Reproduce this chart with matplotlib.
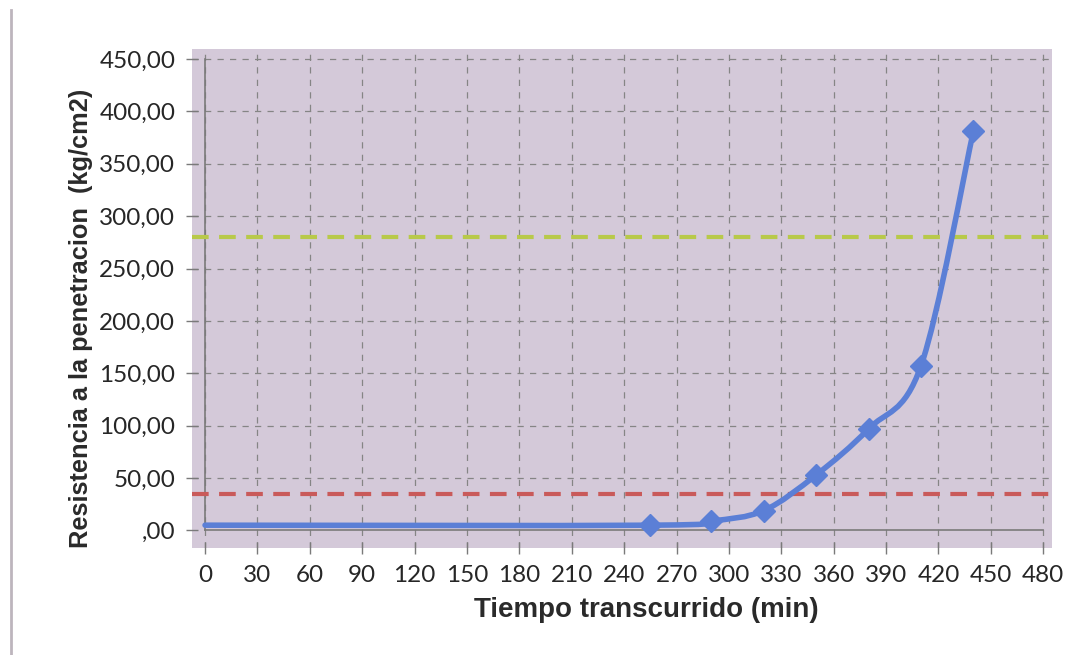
import matplotlib.pyplot as plt
import numpy as np
from matplotlib.path import Path
from matplotlib.patches import PathPatch
from matplotlib.lines import Line2D

# data
tiempo = [0, 255, 290, 320, 350, 380, 410, 440]
resistencia = [5.0, 5.0, 9.0, 19.0, 53.0, 97.0, 157.0, 381.0]
limite_inicial = 35.0
limite_final = 280.0
x_ticks = list(range(0, 481, 30))
y_ticks = list(range(0, 451, 50))
y_labels = [",00"] + [f"{v},00" for v in y_ticks[1:]]

fig = plt.figure(figsize=(10.7, 6.55), dpi=100)
ax = fig.add_axes([0.1794, 0.163, 0.8037, 0.762])
ax.set_facecolor("#d4c9d9")

ax.set_xlim(-7.5, 485)
ax.set_ylim(-17, 459.5)

for sp in ax.spines.values():
    sp.set_visible(False)

# dashed grid
for xv in x_ticks:
    ax.axvline(xv, color="#858585", lw=0.9, ls=(0, (5, 5)), zorder=1)
for yv in y_ticks[1:]:
    ax.axhline(yv, color="#858585", lw=0.9, ls=(0, (5, 5)), zorder=1)

# axis lines
ax.axvline(0, ymin=(0 + 17) / 476.5, ymax=(450 + 17) / 476.5, color="#7a7a7a", lw=1.2, zorder=2)
ax.axhline(0, xmin=7.5 / 492.5, xmax=487.5 / 492.5, color="#7a7a7a", lw=1.2, zorder=2)
ax.set_xticks(x_ticks)
ax.set_yticks(y_ticks)
ax.set_yticklabels(y_labels)
ax.tick_params(axis="both", direction="inout", length=8, color="#7a7a7a", width=1,
               labelsize=17.5, labelcolor="#262626", pad=8)
for lab in ax.get_xticklabels() + ax.get_yticklabels():
    lab.set_family("Lato")

# reference lines
ax.axhline(limite_final, color="#b8c94a", lw=3, ls=(0, (4, 2.5)), zorder=3)
ax.axhline(limite_inicial, color="#c95a5a", lw=3, ls=(0, (4, 2.5)), zorder=3)

# smoothed curve (bezier through the points, like excel)
pts = np.column_stack([tiempo, resistencia])
verts = [pts[0]]
codes = [Path.MOVETO]
n = len(pts)
for i in range(n - 1):
    p0 = pts[max(i - 1, 0)]
    p1 = pts[i]
    p2 = pts[i + 1]
    p3 = pts[min(i + 2, n - 1)]
    c1 = p1 + (p2 - p0) / 6
    c2 = p2 - (p3 - p1) / 6
    verts += [c1, c2, p2]
    codes += [Path.CURVE4] * 3
curve = PathPatch(Path(verts, codes), facecolor="none", edgecolor="#5b7fd6", lw=4,
                  capstyle="round", joinstyle="round", zorder=4)
ax.add_patch(curve)
ax.plot(tiempo[1:], resistencia[1:], ls="none", marker="D", ms=11, color="#5b7fd6", zorder=5)

ax.set_xlabel("Tiempo transcurrido (min)", family="Liberation Sans", weight="bold",
              fontsize=20, color="#2a2a2a")
ax.set_ylabel("Resistencia a la penetracion  (kg/cm2)", family="Liberation Sans", weight="bold",
              fontsize=18.3, color="#2a2a2a")
ax.xaxis.set_label_coords(0.528, -0.097)
ax.yaxis.set_label_coords(-0.115, 0.461)

# scan edge on the left
fig.add_artist(Line2D([0.0105, 0.0105], [0.0, 0.985], color="#bdb5bd", lw=2))

fig.savefig("out.png", dpi=100, facecolor="white")
